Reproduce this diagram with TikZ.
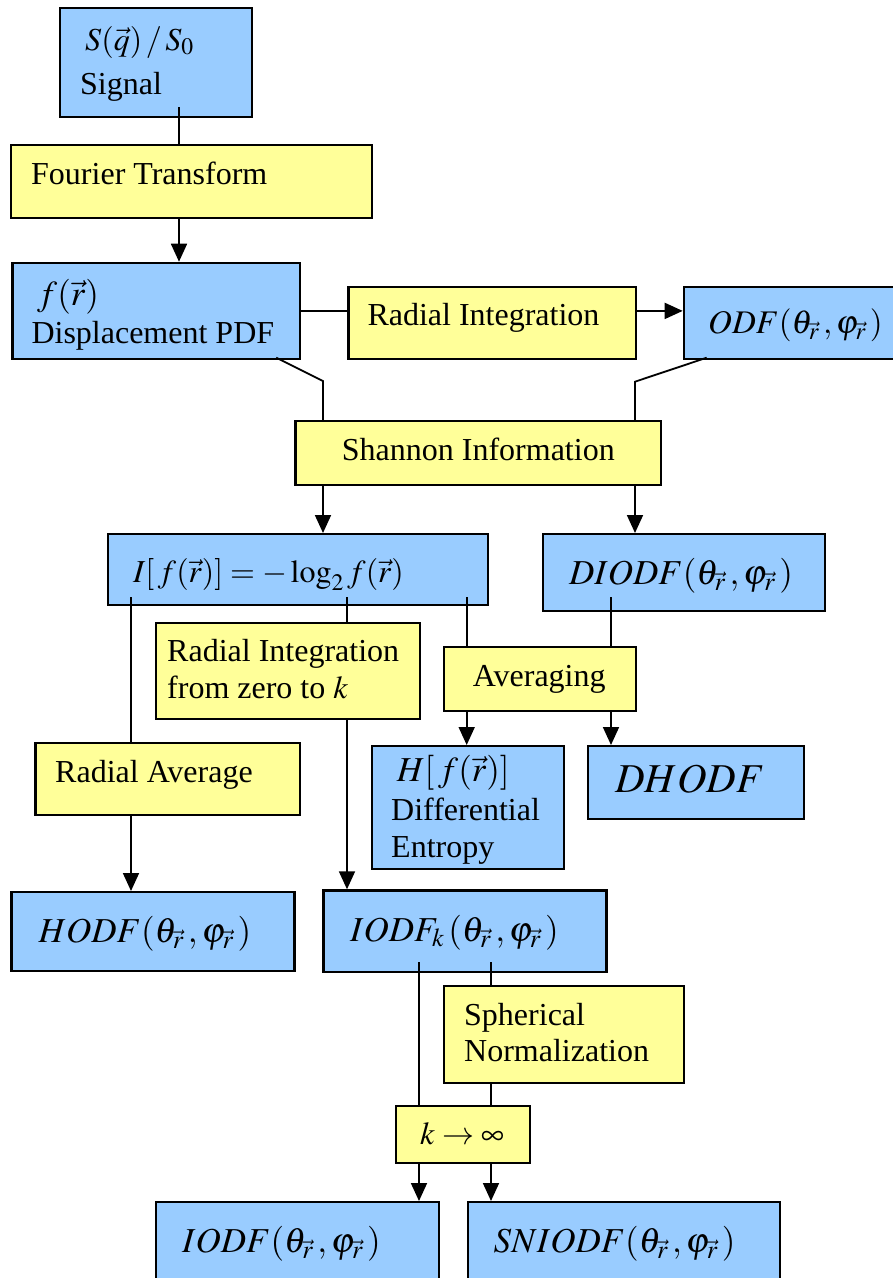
\documentclass[tikz,border=0pt]{standalone}
\usepackage{mathptmx}
\usepackage[no-math]{fontspec}
\setmainfont{Liberation Serif}
\usetikzlibrary{arrows.meta}
\definecolor{boxblue}{RGB}{153,204,255}
\definecolor{boxyellow}{RGB}{255,255,153}
\tikzset{
  bx/.style={draw=black, line width=2.4pt, rectangle, inner sep=0pt, anchor=north west},
  bluebox/.style={bx, fill=boxblue},
  yellowbox/.style={bx, fill=boxyellow},
  txt/.style={inner sep=0pt, anchor=base west, font=\fontsize{32}{38}\selectfont},
  mtxt/.style={inner sep=0pt, anchor=base west, font=\fontsize{35}{42}\selectfont},
  bigtxt/.style={inner sep=0pt, anchor=base west, font=\fontsize{41}{48}\selectfont},
  conn/.style={line width=1.8pt, draw=black},
  arr/.style={conn, -{Triangle[length=18pt,width=16pt]}}
}
\begin{document}
\begin{tikzpicture}[x=1pt,y=-1pt]
\useasboundingbox (0,0) rectangle (893,1278);
\clip (0,0) rectangle (893,1278);
\coordinate (s1) at (179,107);
\coordinate (a1) at (276.2,357.7);
\coordinate (a2) at (323,381);
\coordinate (o1) at (706.7,357.7);
\coordinate (o2) at (635,381.7);
\coordinate (i1) at (131,597);
\coordinate (i2) at (347,597);
\coordinate (i3) at (466.7,597);
\coordinate (dd) at (611,597);
\coordinate (k1) at (419,962);
\coordinate (k2) at (491,962);

% boxes
\node[bluebox, minimum width=192pt, minimum height=108.8pt] (sig) at (58.7,6.7) {};
\node[yellowbox, minimum width=361pt, minimum height=72.7pt] (ft) at (10,144) {};
\node[bluebox, minimum width=287.6pt, minimum height=96pt] (disp) at (11.4,261.7) {};
\node[yellowbox, minimum width=287.6pt, minimum height=72pt] (ri) at (347.4,285.7) {};
\node[bluebox, minimum width=222.3pt, minimum height=72pt] (odf) at (682.7,285.7) {};
\node[yellowbox, minimum width=365.1pt, minimum height=64pt] (si) at (294.4,420) {};
\node[bluebox, minimum width=380.3pt, minimum height=71pt] (ibox) at (106.7,533) {};
\node[bluebox, minimum width=282.3pt, minimum height=77pt] (diodf) at (541.7,533) {};
\node[yellowbox, minimum width=264pt, minimum height=96.3pt] (rik) at (155,621.7) {};
\node[yellowbox, minimum width=192.3pt, minimum height=63.8pt] (avg) at (442.7,645.7) {};
\node[yellowbox, minimum width=264.7pt, minimum height=72.3pt] (ra) at (34.3,741.7) {};
\node[bluebox, minimum width=192pt, minimum height=123pt] (hbox) at (371,745) {};
\node[bluebox, minimum width=216.3pt, minimum height=72.5pt] (dhodf) at (586.7,745) {};
\node[bluebox, minimum width=283pt, minimum height=79pt] (hodf) at (10.3,891) {};
\node[bluebox, minimum width=283.1pt, minimum height=81.2pt] (iodfk) at (322.3,889.3) {};
\node[yellowbox, minimum width=239.8pt, minimum height=96.7pt] (sn) at (443,985) {};
\node[yellowbox, minimum width=134.5pt, minimum height=57pt] (kinf) at (394.5,1105) {};
\node[bluebox, minimum width=282.9pt, minimum height=90pt] (iodf) at (154.7,1201) {};
\node[bluebox, minimum width=312pt, minimum height=90pt] (sniodf) at (467,1201) {};

% texts
\node[txt] (t1) at (85,50) {$S(\vec{q})\,/\,S_0$};
\node[txt] (t2) at (80,94) {Signal};
\node[txt] (t3) at (31,184.3) {Fourier Transform};
\node[mtxt] (t4) at (37,305) {$f(\vec{r})$};
\node[txt] (t5) at (31.3,343.3) {Displacement PDF};
\node[txt] (t6) at (367.3,325) {Radial Integration};
\node[inner sep=0pt, anchor=base west, font=\fontsize{33}{40}\selectfont] (t7) at (708,333) {$ODF(\theta_{\vec{r}}\,,\varphi_{\vec{r}}\,)$};
\node[txt] (t8) at (341.7,460.7) {Shannon Information};
\node[txt] (t9) at (133,582) {$I[\,f(\vec{r})]=-\log_2 f(\vec{r})$};
\node[mtxt] (t10) at (569,584) {$DIODF(\theta_{\vec{r}}\,,\varphi_{\vec{r}}\,)$};
\node[txt] (t11) at (167,661.7) {Radial Integration};
\node[txt] (t12) at (167,698) {from zero to $k$};
\node[txt] (t13) at (472.7,686.7) {Averaging};
\node[txt] (t14) at (55,782.7) {Radial Average};
\node[mtxt] (t15) at (396.7,781.7) {$H[\,f(\vec{r})]$};
\node[txt] (t16) at (391,820.7) {Differential};
\node[txt] (t17) at (391,857.7) {Entropy};
\node[bigtxt] (t18) at (615,792.7) {$DHODF$};
\node[mtxt] (t19) at (38.3,942) {$HODF(\theta_{\vec{r}}\,,\varphi_{\vec{r}}\,)$};
\node[mtxt] (t20) at (350,941) {$IODF_k\,(\theta_{\vec{r}}\,,\varphi_{\vec{r}}\,)$};
\node[txt] (t21) at (464,1025) {Spherical};
\node[txt] (t22) at (464,1061.7) {Normalization};
\node[txt] (t23) at (420,1144) {$k\rightarrow\infty$};
\node[mtxt] (t24) at (182,1252) {$IODF(\theta_{\vec{r}}\,,\varphi_{\vec{r}}\,)$};
\node[mtxt] (t25) at (493.5,1252) {$SNIODF(\theta_{\vec{r}}\,,\varphi_{\vec{r}}\,)$};

% connectors
\draw[conn] (s1) -- (s1 |- ft.north);
\draw[arr] (s1 |- ft.south) -- (s1 |- disp.north);
\draw[conn] (disp.east) -- (disp.east -| ri.west);
\draw[arr] (disp.east -| ri.east) -- (disp.east -| odf.west);
\draw[conn] (a1) -- (a2) -- (a2 |- si.north);
\draw[conn] (o1) -- (o2) -- (o2 |- si.north);
\draw[arr] (a2 |- si.south) -- (a2 |- ibox.north);
\draw[arr] (o2 |- si.south) -- (o2 |- diodf.north);
\draw[conn] (i1) -- (i1 |- ra.north);
\draw[arr] (i1 |- ra.south) -- (i1 |- hodf.north);
\draw[conn] (i2) -- (i2 |- rik.north);
\draw[arr] (i2 |- rik.south) -- (i2 |- iodfk.north);
\draw[conn] (i3) -- (i3 |- avg.north);
\draw[arr] (i3 |- avg.south) -- (i3 |- hbox.north);
\draw[conn] (dd) -- (dd |- avg.north);
\draw[arr] (dd |- avg.south) -- (dd |- dhodf.north);
\draw[conn] (k1) -- (k1 |- kinf.north);
\draw[arr] (k1 |- kinf.south) -- (k1 |- iodf.north);
\draw[conn] (k2) -- (k2 |- sn.north);
\draw[conn] (k2 |- sn.south) -- (k2 |- kinf.north);
\draw[arr] (k2 |- kinf.south) -- (k2 |- sniodf.north);
\end{tikzpicture}
\end{document}
